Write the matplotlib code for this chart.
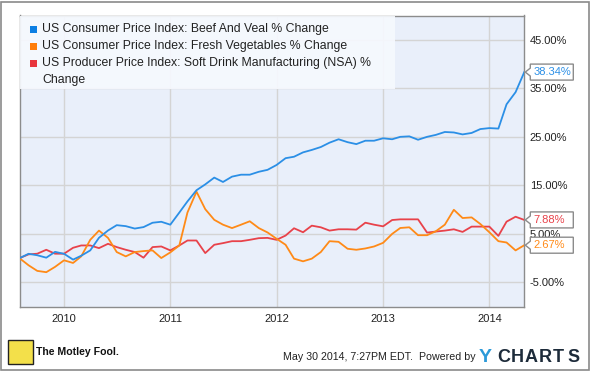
import matplotlib
matplotlib.use("Agg")
import matplotlib.pyplot as plt
import matplotlib.dates as mdates
from matplotlib.patches import Polygon, Rectangle
import pandas as pd

plt.rcParams['font.family'] = ['Liberation Sans', 'DejaVu Sans']

# monthly % change since Aug 2009
dates = pd.date_range('2009-08-01', periods=58, freq='MS')

beef = [0.0, 0.9, 0.6, 0.1, 1.3, 0.9, -0.3, 0.5, 1.6, 4.2,
        5.7, 6.8, 6.6, 6.1, 6.4, 7.3, 7.5, 6.9, 9.4, 11.7,
        14.0, 15.2, 16.6, 15.7, 16.8, 17.2, 17.2, 17.8, 18.2, 19.2,
        20.6, 20.9, 21.8, 22.3, 22.9, 23.8, 24.5, 23.9, 23.5, 24.2,
        24.2, 24.7, 24.5, 25.0, 25.1, 24.4, 25.0, 25.4, 26.0, 25.9,
        25.5, 25.8, 26.6, 26.8, 26.7, 31.7, 34.2, 38.34]

veg = [0.0, -1.46, -2.62, -2.89, -1.8, -0.44, -0.99, 0.37, 3.78, 5.68,
       4.18, 1.26, 0.37, 1.26, 1.46, 1.6, 0.03, 1.19, 2.62, 9.42,
       13.7, 10.1, 7.9, 6.9, 6.2, 6.9, 7.6, 6.2, 5.3, 4.0,
       2.76, -0.1, -0.65, -0.1, 1.26, 3.5, 3.37, 1.94, 1.73, 2.0,
       2.41, 3.16, 5.0, 6.22, 6.36, 4.73, 4.73, 5.54, 6.9, 9.97,
       8.27, 8.4, 7.04, 5.34, 3.5, 3.23, 1.6, 2.67]

soda = [0.0, 0.78, 0.92, 1.73, 0.92, 0.92, 2.14, 2.62, 2.62, 2.07,
        2.96, 2.28, 1.73, 1.26, 0.1, 2.28, 2.41, 1.6, 2.62, 3.64,
        3.64, 1.05, 2.76, 3.1, 3.5, 3.5, 3.78, 4.12, 4.18, 3.78,
        4.66, 6.16, 5.34, 6.7, 6.36, 5.68, 5.95, 5.95, 5.88, 7.31,
        6.9, 6.56, 7.86, 8.0, 8.0, 8.0, 5.27, 5.48, 5.68, 5.95,
        5.41, 6.5, 6.5, 6.5, 4.59, 7.52, 8.54, 7.88]

labels = ['US Consumer Price Index: Beef And Veal % Change',
          'US Consumer Price Index: Fresh Vegetables % Change',
          'US Producer Price Index: Soft Drink Manufacturing (NSA) %',
          'Change']
line_colors = ['#2b8fe6', '#ff8a17', '#e8424a']
swatch_colors = ['#0c7fe3', '#ff7d0a', '#e8353d']
yticks = [-5, 5, 15, 25, 35, 45]
years = [2010, 2011, 2012, 2013, 2014]

W, H = 590, 371
fig = plt.figure(figsize=(W / 100, H / 100), dpi=100)
fig.patch.set_facecolor('white')

def fx(px):
    return px / W

def fy(py):
    return 1 - py / H

ax = fig.add_axes([fx(19.5), fy(306.7), fx(524.3) - fx(19.5), fy(15.5) - fy(306.7)])
ax.set_facecolor('#e9effa')
for s in ax.spines.values():
    s.set_color('#8c8c8c')
    s.set_linewidth(1)

for series, c in zip([beef, veg, soda][::-1], line_colors[::-1]):
    ax.plot(dates, series, color=c, lw=1.3, zorder=3)

ax.set_xlim(dates[0], dates[-1])
ax.set_ylim(-10, 50)
ax.set_yticks(yticks)
ax.set_xticks([pd.Timestamp(f'{y}-01-01') for y in years])
ax.xaxis.set_major_formatter(mdates.DateFormatter('%Y'))
ax.yaxis.tick_right()
ax.set_yticklabels([f'{v:.2f}%' for v in yticks])
ax.tick_params(length=0, labelsize=8, colors='#222222', pad=4)
ax.tick_params(axis='x', pad=5)
ax.grid(True, color='#d4d4d4', lw=1)
ax.set_axisbelow(True)

# legend panel
fig.add_artist(Rectangle((fx(20), fy(88.5)), fx(395) - fx(20), fy(16) - fy(88.5),
                         transform=fig.transFigure, facecolor='#f6f9fe', edgecolor='none',
                         alpha=0.92, zorder=5))
for i, lab in enumerate(labels):
    yc = 29 + 17 * i
    if i < 3:
        fig.add_artist(Rectangle((fx(30), fy(yc + 3.5)), fx(7), 7 / H,
                                 transform=fig.transFigure, facecolor=swatch_colors[i],
                                 edgecolor='none', zorder=6))
    fig.text(fx(42.5), fy(yc), lab, fontsize=8.8, color='#222222', va='center', ha='left',
             zorder=7)

# end-value flags
fig.canvas.draw()
for series, c in zip([beef, veg, soda], line_colors):
    px, py = ax.transData.transform((mdates.date2num(dates[-1]), series[-1]))
    tip = px + 1
    pts = [(tip, py), (tip + 5, py + 4), (tip + 5, py + 8), (tip + 48, py + 8),
           (tip + 48, py - 8), (tip + 5, py - 8), (tip + 5, py - 4)]
    fig.add_artist(Polygon(pts, closed=True, transform=None, facecolor='white',
                           edgecolor='#8c8c8c', lw=1, zorder=8))
    fig.text((tip + 8) / W, py / H, f'{series[-1]:.2f}%', fontsize=8, color=c,
             va='center', ha='left', zorder=9)

# footer
fig.add_artist(Rectangle((fx(8), fy(364)), fx(25), 24 / H, transform=fig.transFigure,
                         facecolor='#f3e04a', edgecolor='#222222', lw=1))
fig.text(fx(36), fy(352), 'The Motley Fool.', fontsize=7.6, fontweight='bold',
         color='#111111', va='center', ha='left')
fig.text(fx(476), fy(357), 'May 30 2014, 7:27PM EDT.  Powered by', fontsize=7.7,
         color='#222222', va='center', ha='right')
fig.text(fx(479), fy(357), 'Y', fontsize=14, fontweight='bold', color='#2c9ad9',
         va='center', ha='left')
for k, ch in enumerate('CHARTS'):
    fig.text(fx(497 + 14 * k), fy(357), ch, fontsize=13, fontweight='bold', color='#1d2b3a',
             va='center', ha='left')

# outer frame
fig.add_artist(Rectangle((0.5 / W, 1.5 / H), 1 - 2 / W, 1 - 3 / H, transform=fig.transFigure,
                         facecolor='none', edgecolor='#8a8a8a', lw=1.2))

fig.savefig('out.png', dpi=100)
